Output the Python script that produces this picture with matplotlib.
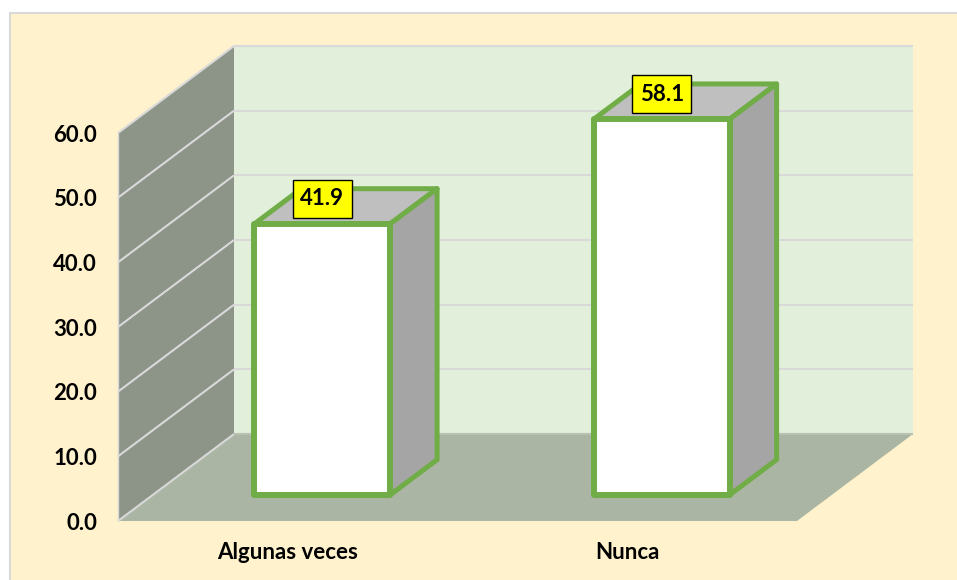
import matplotlib
matplotlib.use("Agg")
import matplotlib.pyplot as plt
from matplotlib.patches import Polygon, Rectangle

categories = ["Algunas veces", "Nunca"]
values = [41.9, 58.1]
value_labels = ["41.9", "58.1"]
y_ticks = [0, 10, 20, 30, 40, 50, 60]
y_tick_labels = ["0.0", "10.0", "20.0", "30.0", "40.0", "50.0", "60.0"]

W, H = 957, 580
GREEN = "#70AD47"
GRID = "#D9D9D9"

# data units per pixel on the front plane
PX_X = 2 / 679
PX_Y = 60 / 388

# oblique depth, in data units of the front plane
DEPTH_X = 116 * PX_X
DEPTH_Y = 87 * PX_Y


def proj(x, y, z):
    return x + z * DEPTH_X, y + z * DEPTH_Y


def face(ax, corners, color, edge="none", lw=0, zorder=1):
    pts = [proj(*c) for c in corners]
    p = Polygon(pts, closed=True, facecolor=color, edgecolor=edge, linewidth=lw,
                joinstyle="round", clip_on=False, zorder=zorder)
    ax.add_patch(p)


def line3(ax, a, b, color=GRID, lw=1.5, zorder=2):
    xa, ya = proj(*a)
    xb, yb = proj(*b)
    ax.plot([xa, xb], [ya, yb], color=color, lw=lw, clip_on=False, zorder=zorder,
            solid_capstyle="butt")


fig = plt.figure(figsize=(W / 100, H / 100), dpi=100, facecolor="white")
plt.rcParams["font.family"] = ["Lato", "DejaVu Sans"]

# chart area
fig.add_artist(Rectangle((9.5 / W, -0.01), 1, 1.01 - 12.5 / H, transform=fig.transFigure,
                         facecolor="#FFF2CC", edgecolor=GRID, linewidth=1.5, zorder=-1))

ax = fig.add_axes([118 / W, 1 - 521 / H, 679 / W, 388 / H])
ax.set_xlim(0, 2)
ax.set_ylim(0, 60)
ax.patch.set_visible(False)
for s in ax.spines.values():
    s.set_visible(False)

# walls and floor
face(ax, [(0, 0, 1), (2, 0, 1), (2, 60, 1), (0, 60, 1)], "#E2EFDA")
face(ax, [(0, 0, 0), (0, 0, 1), (0, 60, 1), (0, 60, 0)], "#8D9488")
face(ax, [(0, 0, 0), (2, 0, 0), (2, 0, 1), (0, 0, 1)], "#AAB5A3")

for t in y_ticks[1:]:
    line3(ax, (0, t, 0), (0, t, 1))
    line3(ax, (0, t, 1), (2, t, 1))
line3(ax, (0, 0, 0), (0, 0, 1))
line3(ax, (0, 0, 0), (0, 60, 0), lw=1)
line3(ax, (0, 0, 1), (2, 0, 1), color="#B8C0B0")

# bars
bar_w = 0.4
z0, z1 = 0.30, 0.705
box_w, box_h = 59 * PX_X, 38 * PX_Y
for i, v in enumerate(values):
    l = i + 0.5 - bar_w / 2 - 0.001
    r = l + bar_w
    face(ax, [(l, v, z0), (r, v, z0), (r, v, z1), (l, v, z1)], "#BFBFBF", GREEN, 3.6, 3)
    face(ax, [(r, 0, z0), (r, 0, z1), (r, v, z1), (r, v, z0)], "#A5A5A5", GREEN, 3.6, 3)
    face(ax, [(l, 0, z0), (r, 0, z0), (r, v, z0), (l, v, z0)], "white", GREEN, 4.3, 4)
    px, py = proj((l + r) / 2, v, z0)
    py += 25 * PX_Y
    ax.add_patch(Rectangle((px - box_w / 2, py - box_h / 2), box_w, box_h, facecolor="#FFFF00",
                           edgecolor="black", linewidth=1, clip_on=False, zorder=6))
    ax.text(px, py, value_labels[i], ha="center", va="center", fontsize=16, fontweight="bold",
            color="black", zorder=7)

ax.set_xticks([i + 0.5 for i in range(len(categories))])
ax.set_xticklabels(categories, fontsize=16, fontweight="bold", color="black")
ax.set_yticks(y_ticks)
ax.set_yticklabels(y_tick_labels, fontsize=16, fontweight="bold", color="black")
ax.tick_params(axis="x", length=0, pad=15)
ax.tick_params(axis="y", length=0, pad=15)

fig.savefig("out.png", dpi=100, facecolor=fig.get_facecolor())
